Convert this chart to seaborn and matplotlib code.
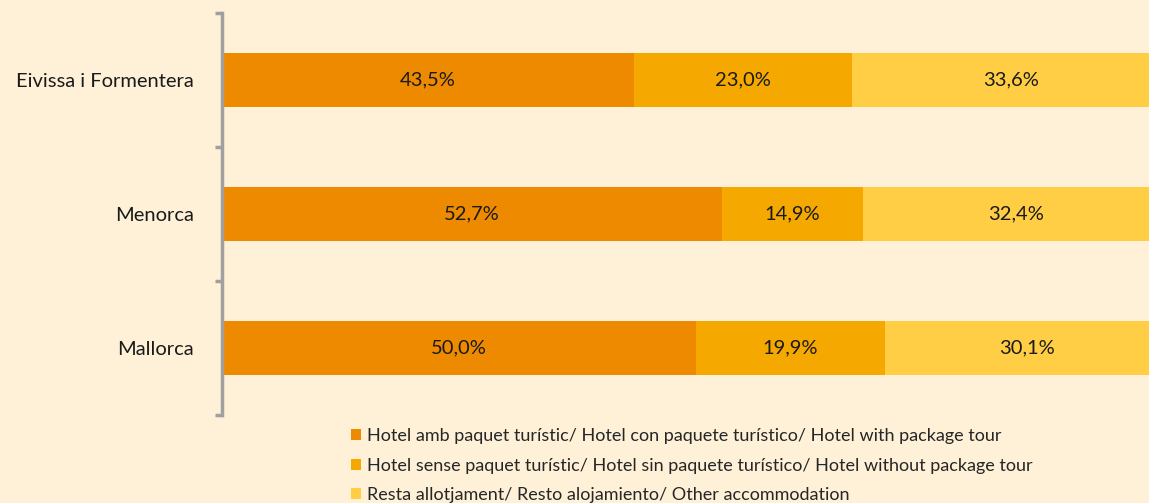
import matplotlib
matplotlib.use("Agg")
import matplotlib.pyplot as plt
from matplotlib.patches import Patch
import seaborn as sns
import pandas as pd
import numpy as np

# Dades
illes = ["Eivissa i Formentera", "Menorca", "Mallorca"]
amb_paquet = [43.5, 52.7, 50.0]
sense_paquet = [23.0, 14.9, 19.9]
resta = [33.6, 32.4, 30.1]
series_noms = [
    "Hotel amb paquet turístic/ Hotel con paquete turístico/ Hotel with package tour",
    "Hotel sense paquet turístic/ Hotel sin paquete turístico/ Hotel without package tour",
    "Resta allotjament/ Resto alojamiento/ Other accommodation",
]
colors = ["#EE8A00", "#F5A800", "#FFCE45"]
fons = "#FEF1D8"

sns.set_theme(style="white")
plt.rcParams["font.family"] = ["Lato", "DejaVu Sans"]

df = pd.DataFrame({"illa": illes, "a": amb_paquet, "b": sense_paquet, "c": resta})
df["ab"] = df["a"] + df["b"]
df["abc"] = df["ab"] + df["c"]

fig = plt.figure(figsize=(11.49, 5.03), dpi=100, facecolor=fons)
ax = fig.add_axes([222 / 1149, 1 - 415 / 503, 1 - 222 / 1149, 402 / 503])
ax.set_facecolor(fons)

# barres apilades (de la suma total cap a la primera serie)
for col, c in [("abc", colors[2]), ("ab", colors[1]), ("a", colors[0])]:
    sns.barplot(data=df, x=col, y="illa", orient="h", color=c, width=0.4,
                saturation=1, ax=ax, linewidth=0)

# etiquetes de valors
for i, row in df.iterrows():
    starts = [0, row["a"], row["ab"]]
    for s, v in zip(starts, [row["a"], row["b"], row["c"]]):
        ax.text(s + v / 2, i, f"{v:.1f}%".replace(".", ","), ha="center",
                va="center", fontsize=14.5, color="#1a1a1a")

# l'eix no arriba al 100% (les barres queden tallades a la dreta)
ax.set_xlim(0, 97.8)
ax.set_ylim(2.5, -0.5)
ax.set_xlabel("")
ax.set_ylabel("")
ax.set_xticks([])
for s in ["top", "right", "bottom"]:
    ax.spines[s].set_visible(False)
ax.spines["left"].set_color("#A0A0A0")
ax.spines["left"].set_linewidth(2.5)
ax.set_yticks([0, 1, 2])
ax.set_yticklabels(illes, fontsize=14.5, color="#1a1a1a")
ax.set_yticks([-0.5, 0.5, 1.5, 2.5], minor=True)
ax.tick_params(axis="y", which="major", length=0, pad=20)
ax.tick_params(axis="y", which="minor", length=5, width=2.5, color="#A0A0A0",
               direction="out", left=True)

handles = [Patch(facecolor=c, edgecolor="none") for c in colors]
fig.legend(handles, series_noms, loc="upper left", bbox_to_anchor=(351 / 1149, 1 - 428 / 503),
           frameon=False, fontsize=13.0, handlelength=0.55, handleheight=0.55,
           handletextpad=0.35, labelspacing=0.75, borderpad=0, borderaxespad=0)

fig.savefig("out.png", dpi=100, facecolor=fons)
